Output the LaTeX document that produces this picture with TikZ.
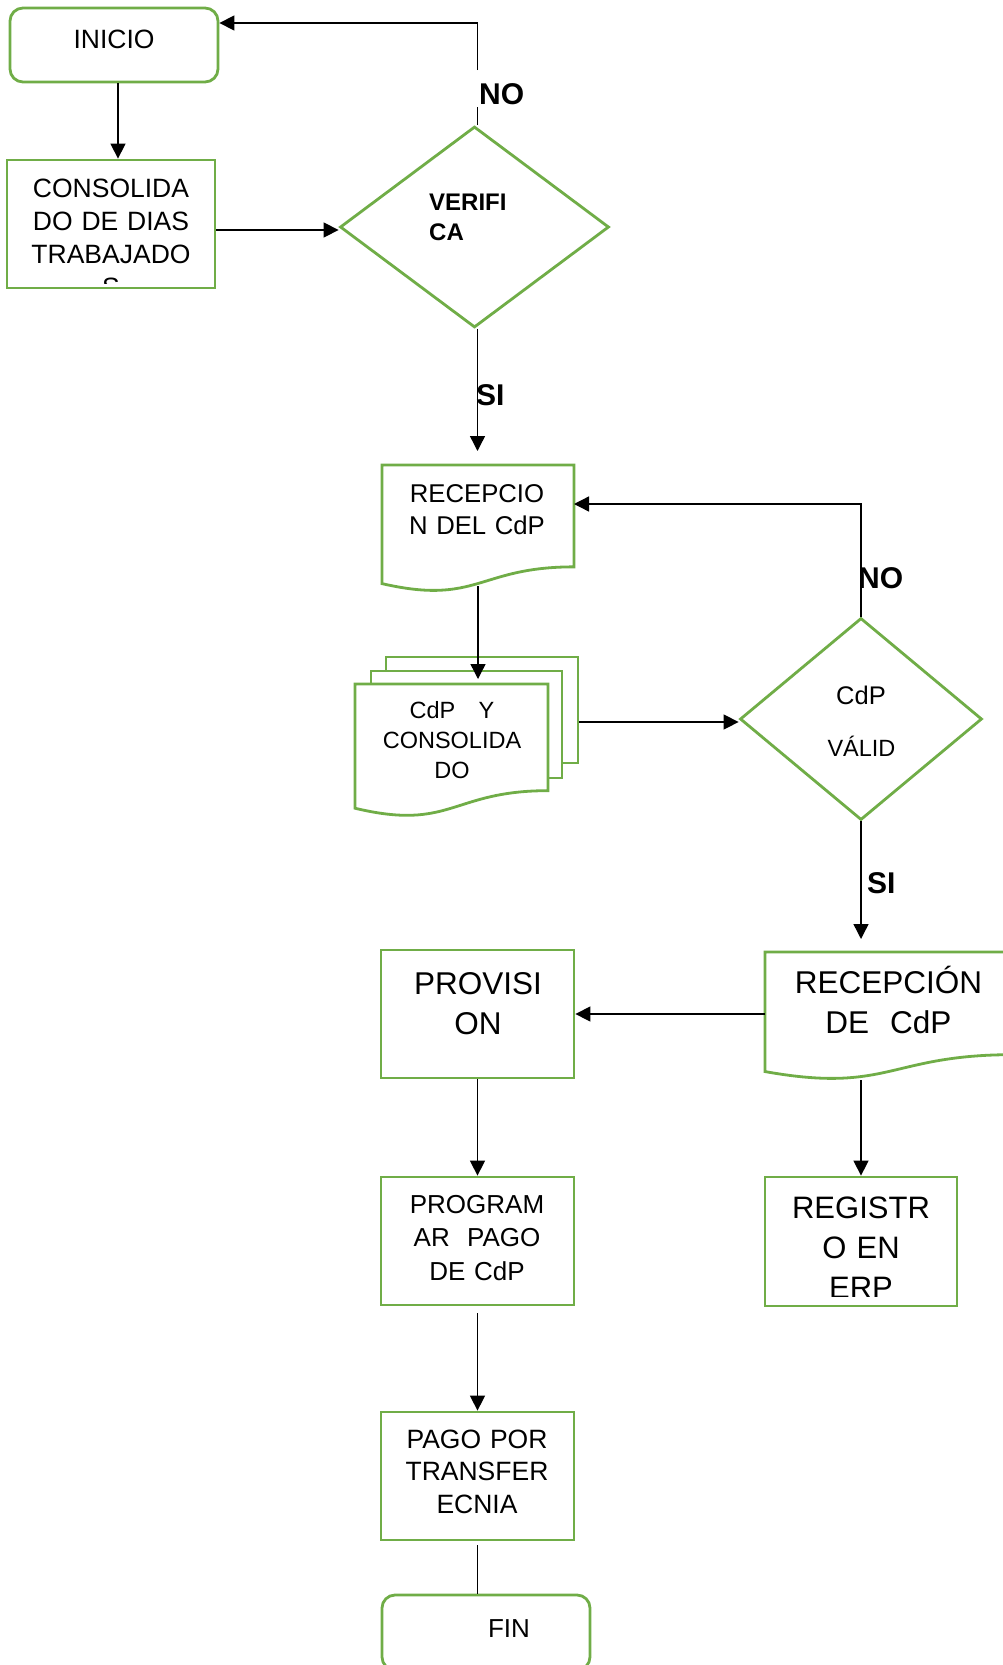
\documentclass[tikz,border=0pt]{standalone}
\usepackage{fontspec}
\setmainfont{Liberation Sans}
\usetikzlibrary{shapes.geometric,arrows.meta,calc}

\definecolor{flowgreen}{RGB}{112,173,71}

% Document symbol: flat top, wavy bottom edge
\newcommand\flowdoc[1]{%
  \draw[shapeline,fill=white] (#1.north west) -- (#1.north east)
    -- ($(#1.north east)!0.802!(#1.south east)$)
    .. controls ($(#1.north)!0.802!(#1.south)$) and ($(#1.north)!1.1075!(#1.south)$)
    .. ($(#1.north west)!0.934!(#1.south west)$) -- cycle;}

\tikzset{
  shapeline/.style={draw=flowgreen,line width=2.8pt},
  procbox/.style={shapeline,rectangle,fill=white,inner sep=0pt},
  termbox/.style={shapeline,rectangle,rounded corners=13pt,fill=white,inner sep=0pt},
  docbox/.style={rectangle,inner sep=0pt,outer sep=0pt},
  decision/.style={shapeline,diamond,fill=white,inner sep=0pt},
  flow/.style={draw=black,line width=1.4pt,-{Triangle[length=15pt,width=15pt]}},
  plainline/.style={draw=black,line width=1.4pt},
  boxtext/.style={inner sep=0pt,anchor=base,align=center,text width=#1},
  tag/.style={inner sep=0pt,anchor=base west,font=\fontsize{30}{30}\selectfont\bfseries},
}

\begin{document}
\begin{tikzpicture}[x=1pt,y=-1pt]
\useasboundingbox (0,0) rectangle (1003,1665);
\clip (0,0) rectangle (1003,1665);

% ---- shapes ----
\node[termbox,minimum width=208pt,minimum height=74pt] (inicio) at (114,45) {};
\node[procbox,minimum width=208pt,minimum height=128pt] (consol) at (111,224) {};
\node[decision,minimum width=269pt,minimum height=201pt] (verif) at (474.5,227) {};

\node[docbox,minimum width=192pt,minimum height=127pt] (rec1) at (478,528.5) {};
\flowdoc{rec1}

\node[procbox,minimum width=192pt,minimum height=106pt] (mdback) at (482,710) {};
\node[procbox,minimum width=191pt,minimum height=107pt] (mdmid) at (466.5,724.5) {};
\node[docbox,minimum width=193pt,minimum height=133pt] (mdfront) at (451.5,750.5) {};
\flowdoc{mdfront}

\node[decision,minimum width=242pt,minimum height=202pt] (valid) at (861,719) {};

\node[procbox,minimum width=193pt,minimum height=128pt] (prov) at (477.5,1014) {};
\node[docbox,minimum width=248pt,minimum height=128pt] (rec2) at (889,1016) {};
\flowdoc{rec2}

\node[procbox,minimum width=193pt,minimum height=128pt] (prog) at (477.5,1241) {};
\node[procbox,minimum width=192pt,minimum height=129pt] (reg) at (861,1241.5) {};
\node[procbox,minimum width=193pt,minimum height=128pt] (pago) at (477.5,1476) {};
\node[termbox,minimum width=208pt,minimum height=75pt] (fin) at (486,1632.5) {};

% ---- connectors ----
\coordinate (toprow) at (0,23);
\coordinate (cutlow) at (0,107);
\coordinate (cuthigh) at (0,70);
\coordinate (looprow) at (0,504);
\coordinate (verifup) at ([xshift=3pt]verif.north);
\coordinate (verifdown) at ([xshift=3pt]verif.south);
\coordinate (verifin) at ([yshift=-3pt]verif.west);
\coordinate (validin) at ([yshift=-3pt]valid.west);

\draw[flow] ([xshift=4pt]inicio.south) -- ([xshift=4pt]inicio.south |- consol.north);
\draw[flow] (consol.east |- verifin) -- (verifin);
\draw[plainline] (verifup) -- (verifup |- cutlow);
\draw[flow] (verifup |- cuthigh) -- (verifup |- toprow) -- (inicio.east |- toprow);
\draw[flow,shorten >=14pt] (verifdown) -- (verifdown |- rec1.north);
\draw[flow,shorten >=5pt] ([yshift=6pt]rec1.south) -- (rec1.south |- mdfront.north);
\draw[flow] (mdback.east |- validin) -- (validin);
\draw[flow] (valid.north) -- (valid.north |- looprow) -- (rec1.east |- looprow);
\draw[flow,shorten >=13pt] (valid.south) -- (valid.south |- rec2.north);
\draw[flow] (rec2.west |- prov.east) -- (prov.east);
\draw[flow] (reg.north |- rec2.south) -- (reg.north);
\draw[flow] (prov.south) -- (prog.north);
\draw[flow,shorten <=7pt] (prog.south) -- (pago.north);
\draw[plainline,shorten <=4pt] (pago.south) -- (pago.south |- fin.north);

% ---- texts ----
\node[boxtext=200pt,font=\fontsize{26.5}{33}\selectfont] (tinicio) at (114,48) {INICIO};
\begin{scope}
  \clip (7,160) rectangle (215,283);
  \node[boxtext=208pt,font=\fontsize{26.5}{33}\selectfont] (tconsol) at (111,197)
    {CONSOLIDA\\DO DE DIAS\\TRABAJADO\\S};
\end{scope}
\node[inner sep=0pt,anchor=base west,align=left,text width=100pt,
      font=\fontsize{24}{30}\selectfont\bfseries] (tverif) at (429,210) {VERIFI\\CA};
\node[tag] (tno1) at (479,104) {NO};
\node[tag] (tsi1) at (476,405) {SI};

\node[boxtext=190pt,font=\fontsize{25.7}{32}\selectfont] (trec1) at (477,502)
  {RECEPCIO\\N DEL CdP};
\node[boxtext=190pt,font=\fontsize{23.5}{30}\selectfont] (tmd) at (452,718)
  {CdP\ \ \ Y\\CONSOLIDA\\DO};

\node[boxtext=120pt,font=\fontsize{25.5}{30}\selectfont] (tvalid1) at (861,704) {CdP};
\node[boxtext=120pt,font=\fontsize{23.5}{30}\selectfont] (tvalid2) at (861.5,756) {VÁLID};
\node[tag] (tno2) at (858,588) {NO};
\node[tag] (tsi2) at (867,893) {SI};

\node[boxtext=190pt,font=\fontsize{31.5}{40}\selectfont] (tprov) at (478,994) {PROVISI\\ON};
\node[boxtext=240pt,font=\fontsize{31.5}{40}\selectfont] (trec2) at (888.5,993)
  {RECEPCIÓN\\DE\ \ CdP};
\node[boxtext=190pt,font=\fontsize{26}{33.5}\selectfont] (tprog) at (477,1213)
  {PROGRAM\\AR\ \ PAGO\\DE CdP};
\begin{scope}
  \clip (765,1177) rectangle (957,1296);
  \node[boxtext=190pt,font=\fontsize{31}{40}\selectfont] (treg) at (861,1218)
    {REGISTR\\O EN\\ERP};
\end{scope}
\node[boxtext=190pt,font=\fontsize{26.5}{32.7}\selectfont] (tpago) at (477,1448)
  {PAGO POR\\TRANSFER\\ECNIA};
\node[boxtext=120pt,font=\fontsize{26}{32}\selectfont] (tfin) at (509,1637) {FIN};
\end{tikzpicture}
\end{document}
